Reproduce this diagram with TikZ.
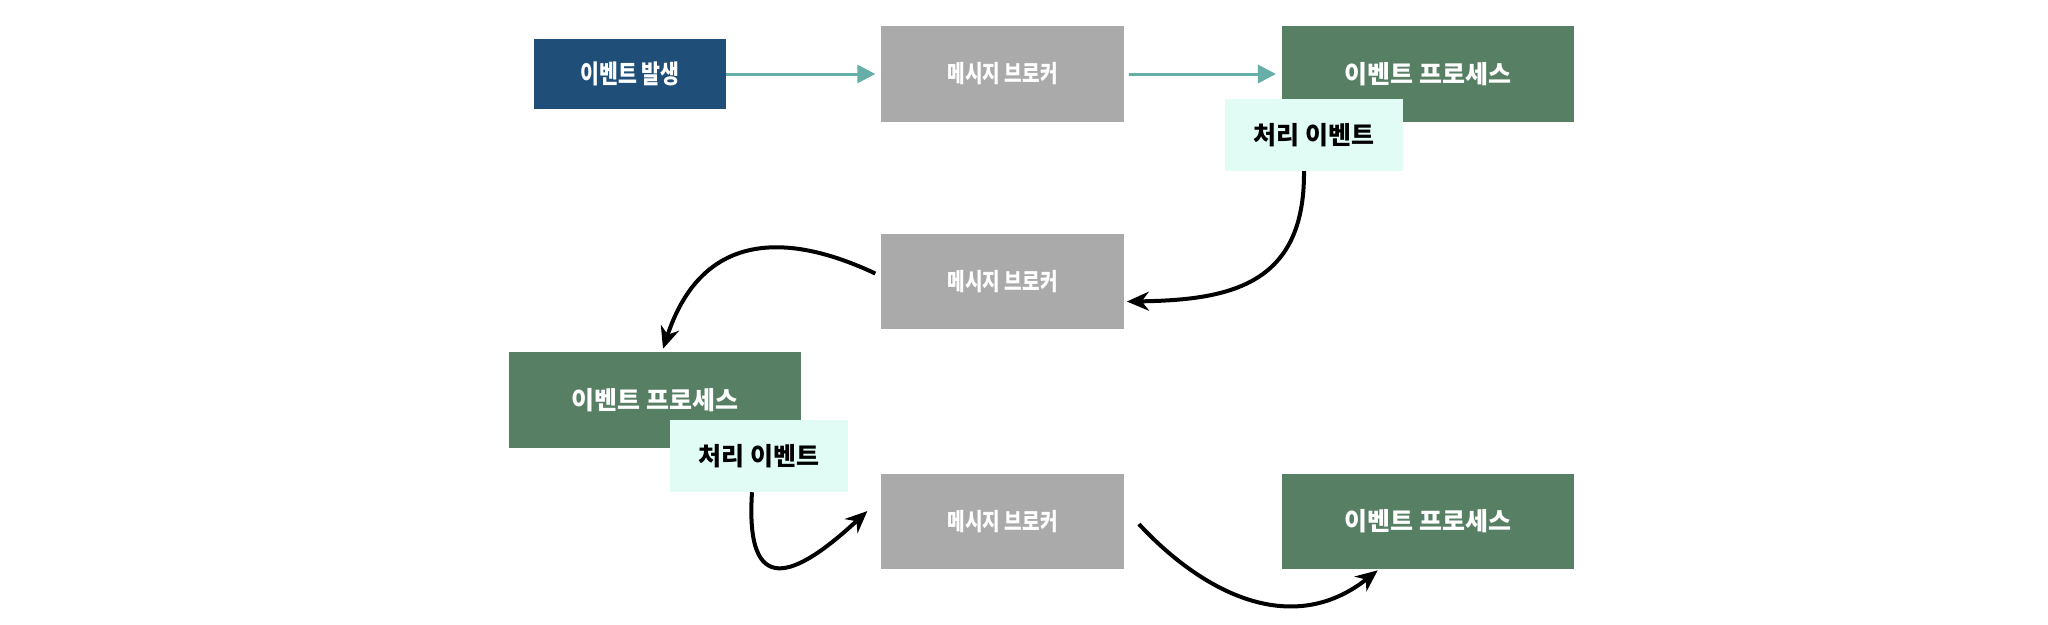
\documentclass[tikz,border=0pt]{standalone}
\usepackage{fontspec}
\setmainfont{Noto Sans CJK KR}
\newfontfamily\narrowkr[FakeStretch=0.8]{Noto Sans CJK KR}
\usetikzlibrary{arrows.meta,positioning}

\definecolor{evtblue}{HTML}{1F4E79}
\definecolor{brokergray}{HTML}{AAAAAA}
\definecolor{procgreen}{HTML}{577F63}
\definecolor{tagmint}{HTML}{E0FCF5}
\definecolor{flowteal}{HTML}{66AFA9}

\begin{document}
\begin{tikzpicture}[
    x=0.01cm, y=-0.01cm,
    font=\fontsize{7.1}{8}\selectfont\bfseries,
    evtbox/.style={fill=evtblue, text=white, font=\fontsize{7.3}{8}\selectfont\narrowkr\bfseries, minimum width=1.91cm, minimum height=0.69cm, inner sep=0pt},
    brokerbox/.style={fill=brokergray, text=white, font=\fontsize{6.8}{8}\selectfont\narrowkr\bfseries, minimum width=2.43cm, minimum height=0.95cm, inner sep=0pt},
    procbox/.style={fill=procgreen, text=white, minimum width=2.92cm, minimum height=0.95cm, inner sep=0pt},
    tagbox/.style={fill=tagmint, text=black, minimum width=1.78cm, minimum height=0.71cm, inner sep=0pt},
    flow/.style={-{Triangle[length=0.18cm,width=0.18cm]}, line width=0.03cm, draw=flowteal, shorten >=0.05cm},
    curvy/.style={-{Stealth[length=0.22cm,width=0.19cm]}, line width=0.04cm}
]
    \useasboundingbox (0,0) rectangle (2048,624);

    % top row
    \node[evtbox] (evt) at (630,74) {이벤트 발생};
    \node[brokerbox, right=1.54cm of evt] (broker1) {메시지 브로커};
    \node[procbox, right=1.56cm of broker1] (proc1) {이벤트 프로세스};
    \node[tagbox] (tag1) at (1314,135) {처리 이벤트};

    % middle row
    \node[brokerbox, below=1.11cm of broker1] (broker2) {메시지 브로커};
    \node[procbox] (proc2) at (655,400) {이벤트 프로세스};
    \node[tagbox] (tag2) at (759,456) {처리 이벤트};

    % bottom row
    \node[brokerbox, below=1.43cm of broker2] (broker3) {메시지 브로커};
    \node[procbox, right=1.56cm of broker3] (proc3) {이벤트 프로세스};

    \draw[flow] (evt) -- (broker1);
    \draw[flow, shorten <=0.04cm] (broker1) -- (proc1);

    \draw[curvy] ([xshift=-0.1cm]tag1.south) .. controls (1305,285) and (1230,300) .. ([shift={(0.02cm,-0.2cm)}]broker2.east);
    \draw[curvy] ([shift={(-0.05cm,0.08cm)}]broker2.west) .. controls (800,238) and (705,222) .. ([shift={(0.08cm,0.03cm)}]proc2.north);
    \draw[curvy] ([xshift=-0.07cm]tag2.south) .. controls (745,600) and (795,578) .. ([shift={(-0.13cm,0.1cm)}]broker3.west);
    \draw[curvy] ([shift={(0.14cm,-0.03cm)}]broker3.east) .. controls (1200,590) and (1290,640) .. ([shift={(-0.5cm,-0.01cm)}]proc3.south);

\end{tikzpicture}
\end{document}
